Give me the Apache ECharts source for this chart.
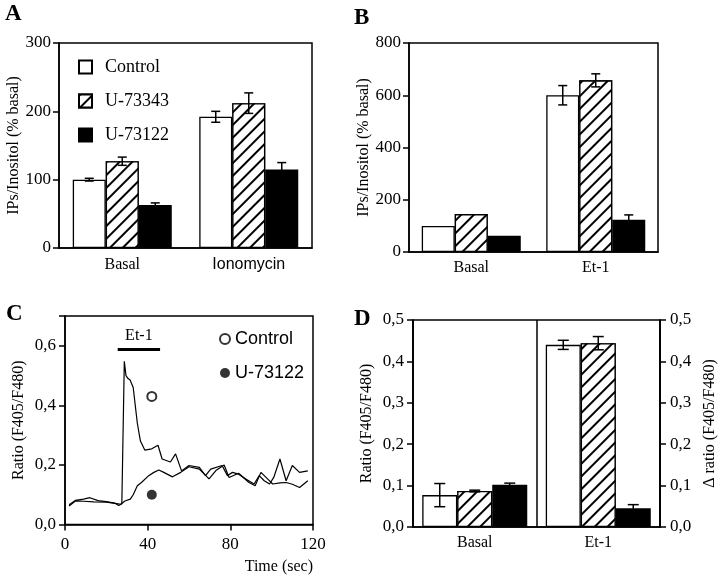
<!DOCTYPE html>
<html><head><meta charset="utf-8">
<script src="https://cdn.jsdelivr.net/npm/echarts@6/dist/echarts.min.js"></script>
<style>html,body{margin:0;padding:0;background:#fff}#c{width:720px;height:576px}</style>
</head><body><div id="c"></div>
<script>
// ---- Panel A ----
const catA = ['Basal', 'Ionomycin'];
const aControl = [100, 192], aControlErr = [2, 8];
const aU73343 = [127, 212], aU73343Err = [6, 15];
const aU73122 = [63, 115], aU73122Err = [3, 10];
const ticksA = [0, 100, 200, 300];
// ---- Panel B ----
const catB = ['Basal', 'Et-1'];
const bControl = [100, 600], bControlErr = [0, 37];
const bU73343 = [145, 657], bU73343Err = [0, 25];
const bU73122 = [62, 123], bU73122Err = [0, 19];
const ticksB = [0, 200, 400, 600, 800];
// ---- Panel C ----
const cCtrlTime = [2, 5, 9, 12, 16, 20, 24, 26, 27.5, 28.7, 29.5, 30.5, 31.5, 33, 35, 36.5, 38.6, 42, 45, 47, 51, 53.5, 56.4, 60, 65, 68, 70.5, 76, 78.6, 81, 84, 87.5, 91.5, 94, 96.4, 99, 101, 104, 107, 110, 113.5, 117.5];
const cCtrlRatio = [0.066, 0.081, 0.085, 0.09, 0.08, 0.077, 0.072, 0.064, 0.07, 0.548, 0.5, 0.49, 0.485, 0.46, 0.34, 0.28, 0.25, 0.254, 0.266, 0.22, 0.21, 0.237, 0.18, 0.198, 0.192, 0.164, 0.186, 0.198, 0.164, 0.175, 0.169, 0.153, 0.136, 0.164, 0.147, 0.136, 0.158, 0.22, 0.147, 0.198, 0.175, 0.18];
const cUTime = [2, 5, 9, 14, 20, 25, 27, 29, 31.6, 33, 35, 37, 40.5, 43, 45.4, 47.8, 52, 56, 60, 65, 69.7, 73, 77, 79.4, 84, 89, 92, 94.8, 98, 100.5, 104, 107, 110, 113.5, 117.5];
const cURatio = [0.062, 0.079, 0.078, 0.076, 0.075, 0.07, 0.068, 0.079, 0.085, 0.1, 0.13, 0.141, 0.164, 0.175, 0.183, 0.175, 0.16, 0.175, 0.194, 0.186, 0.153, 0.181, 0.2, 0.158, 0.172, 0.141, 0.13, 0.175, 0.153, 0.136, 0.14, 0.141, 0.135, 0.124, 0.147];
const cEtPeriod = [25.5, 46], cEtLevel = 0.59;
const cCtrlMarker = [42, 0.43], cUMarker = [42, 0.10];
// ---- Panel D ----
const catD = ['Basal', 'Et-1'];
const dControl = [0.077, 0.44], dControlErr = [0.028, 0.011];
const dU73343 = [0.087, 0.444], dU73343Err = [0.002, 0.016];
const dU73122 = [0.102, 0.045], dU73122Err = [0.004, 0.009];

const SERIF = 'Liberation Serif', SANS = 'Liberation Sans';
const black = '#000';
const hatch = {symbol: 'rect', symbolSize: 1, color: '#000', backgroundColor: '#fff',
  dashArrayX: [1, 0], dashArrayY: [1.4, 6.2], rotation: -Math.PI / 4};
const comma = v => v.toFixed(1).replace('.', ',');

function axisBase(extra) {
  return Object.assign({
    axisLine: {show: true, lineStyle: {color: black, width: 1.5}},
    axisTick: {show: true, inside: false, length: 6, lineStyle: {color: black, width: 1.5}},
    axisLabel: {color: black, fontSize: 17, fontFamily: SERIF, margin: 9},
    splitLine: {show: false},
    nameTextStyle: {color: black, fontSize: 16, fontFamily: SERIF}
  }, extra);
}
function bars(xi, yi, w, c, h, k) {
  return [
    {name: 'Control', type: 'bar', xAxisIndex: xi, yAxisIndex: yi, barWidth: w, barGap: '0%', data: c,
      itemStyle: {color: '#fff', borderColor: black, borderWidth: 1.3}, silent: true},
    {name: 'U-73343', type: 'bar', xAxisIndex: xi, yAxisIndex: yi, barWidth: w, barGap: '0%', data: h,
      itemStyle: {color: '#fff', borderColor: black, borderWidth: 1.3, decal: hatch}, silent: true},
    {name: 'U-73122', type: 'bar', xAxisIndex: xi, yAxisIndex: yi, barWidth: w, barGap: '0%', data: k,
      itemStyle: {color: black, borderColor: black, borderWidth: 1.3}, silent: true}
  ];
}
function errSeries(xi, yi, vals, errs, offset, cap) {
  return {type: 'custom', xAxisIndex: xi, yAxisIndex: yi, z: 5, silent: true,
    encode: {x: 0, y: 1},
    data: vals.map((v, i) => [i, v, errs[i]]),
    renderItem(params, api) {
      const e = api.value(2);
      if (!e) return {type: 'group', children: []};
      const c = api.value(0), v = api.value(1);
      const top = api.coord([c, v + e]), bot = api.coord([c, v - e]);
      const x = top[0] + offset;
      const st = {stroke: black, lineWidth: 1.5};
      return {type: 'group', children: [
        {type: 'line', shape: {x1: x, y1: top[1], x2: x, y2: bot[1]}, style: st},
        {type: 'line', shape: {x1: x - cap / 2, y1: top[1], x2: x + cap / 2, y2: top[1]}, style: st},
        {type: 'line', shape: {x1: x - cap / 2, y1: bot[1], x2: x + cap / 2, y2: bot[1]}, style: st}
      ]};
    }};
}
const zip = (a, b) => a.map((v, i) => [v, b[i]]);
const letter = (t, l, tp) => ({text: t, left: l, top: tp, padding: 0,
  textStyle: {fontFamily: SERIF, fontWeight: 'bold', fontSize: 23, color: black}});

const chart = echarts.init(document.getElementById('c'), null, {renderer: 'canvas'});
const gridStyle = {show: true, borderColor: black, borderWidth: 1.5, backgroundColor: 'transparent'};

const option = {
  animation: false,
  backgroundColor: '#fff',
  textStyle: {fontFamily: SERIF, color: black},
  title: [letter('A', 5, 3), letter('B', 354, 7), letter('C', 6, 303), letter('D', 354, 308)],
  legend: [
    {data: ['Control', 'U-73343', 'U-73122'], orient: 'vertical', left: 73, top: 53, itemGap: 16,
      icon: 'rect', itemWidth: 13, itemHeight: 13, selectedMode: false,
      textStyle: {fontFamily: SERIF, fontSize: 18, color: black, padding: [0, 0, 0, 8]}},
    {data: ['C-Control', 'C-U-73122'], orient: 'vertical', left: 214, top: 325, itemGap: 16,
      itemWidth: 10, itemHeight: 10, selectedMode: false, formatter: n => n.slice(2),
      textStyle: {fontFamily: SANS, fontSize: 18, color: black}}
  ],
  grid: [
    Object.assign({left: 59, top: 43, width: 253, height: 205}, gridStyle),
    Object.assign({left: 409, top: 43, width: 249, height: 209}, gridStyle),
    Object.assign({left: 65, top: 316, width: 248, height: 208.5}, gridStyle),
    Object.assign({left: 413, top: 320, width: 247, height: 207}, gridStyle)
  ],
  xAxis: [
    axisBase({type: 'category', gridIndex: 0, data: [catA[0], {value: catA[1], textStyle: {fontFamily: SANS, fontSize: 16}}],
      axisTick: {show: false}, axisLabel: {color: black, fontSize: 16, fontFamily: SERIF, margin: 9}}),
    axisBase({type: 'category', gridIndex: 1, data: catB, axisTick: {show: false},
      axisLabel: {color: black, fontSize: 16, fontFamily: SERIF, margin: 8}}),
    axisBase({type: 'value', gridIndex: 2, min: 0, max: 120, interval: 40,
      axisLabel: {color: black, fontSize: 17, fontFamily: SERIF, margin: 12},
      name: 'Time (sec)', nameLocation: 'end', nameGap: 0,
      nameTextStyle: {color: black, fontSize: 16, fontFamily: SERIF, align: 'right', verticalAlign: 'top', padding: [34, 0, 0, 0]}}),
    axisBase({type: 'category', gridIndex: 3, data: catD, axisTick: {show: false},
      axisLabel: {color: black, fontSize: 16, fontFamily: SERIF, margin: 8},
      splitLine: {show: true, lineStyle: {color: black, width: 1.5}}})
  ],
  yAxis: [
    axisBase({type: 'value', gridIndex: 0, min: ticksA[0], max: ticksA[ticksA.length - 1], interval: 100,
      axisLabel: {color: black, fontSize: 17, fontFamily: SERIF, margin: 8},
      name: 'IPs/Inositol (% basal)', nameLocation: 'middle', nameGap: 37}),
    axisBase({type: 'value', gridIndex: 1, min: ticksB[0], max: ticksB[ticksB.length - 1], interval: 200,
      axisLabel: {color: black, fontSize: 17, fontFamily: SERIF, margin: 8},
      name: 'IPs/Inositol (% basal)', nameLocation: 'middle', nameGap: 36}),
    axisBase({type: 'value', gridIndex: 2, min: 0, max: 0.7, interval: 0.2,
      axisLabel: {color: black, fontSize: 17, fontFamily: SERIF, margin: 9,
        formatter: v => (Math.round(v * 10) % 2 === 0 ? comma(v) : '')},
      name: 'Ratio (F405/F480)', nameLocation: 'middle', nameGap: 38}),
    axisBase({type: 'value', gridIndex: 3, min: 0, max: 0.5, interval: 0.1, position: 'left',
      axisLabel: {color: black, fontSize: 17, fontFamily: SERIF, margin: 9, formatter: comma},
      name: 'Ratio (F405/F480)', nameLocation: 'middle', nameGap: 38}),
    axisBase({type: 'value', gridIndex: 3, min: 0, max: 0.5, interval: 0.1, position: 'right',
      axisLabel: {color: black, fontSize: 17, fontFamily: SERIF, margin: 10, formatter: comma},
      name: 'Δ ratio (F405/F480)', nameLocation: 'middle', nameGap: 42, nameRotate: 90})
  ],
  series: [
    ...bars(0, 0, 33, aControl, aU73343, aU73122),
    errSeries(0, 0, aControl, aControlErr, -33, 9),
    errSeries(0, 0, aU73343, aU73343Err, 0, 9),
    errSeries(0, 0, aU73122, aU73122Err, 33, 9),
    ...bars(1, 1, 33, bControl, bU73343, bU73122),
    errSeries(1, 1, bControl, bControlErr, -33, 9),
    errSeries(1, 1, bU73343, bU73343Err, 0, 9),
    errSeries(1, 1, bU73122, bU73122Err, 33, 9),
    ...bars(3, 3, 35, dControl, dU73343, dU73122),
    errSeries(3, 3, dControl, dControlErr, -35, 11),
    errSeries(3, 3, dU73343, dU73343Err, 0, 11),
    errSeries(3, 3, dU73122, dU73122Err, 35, 11),
    {name: 'Control trace', type: 'line', xAxisIndex: 2, yAxisIndex: 2, data: zip(cCtrlTime, cCtrlRatio),
      symbol: 'none', lineStyle: {color: black, width: 1.2}, silent: true,
      markLine: {silent: true, symbol: 'none', lineStyle: {color: black, width: 3, type: 'solid'},
        label: {show: true, position: 'middle', formatter: 'Et-1', fontFamily: SERIF, fontSize: 16, color: black, distance: 5},
        data: [[{coord: [cEtPeriod[0], cEtLevel]}, {coord: [cEtPeriod[1], cEtLevel]}]]}},
    {name: 'U-73122 trace', type: 'line', xAxisIndex: 2, yAxisIndex: 2, data: zip(cUTime, cURatio),
      symbol: 'none', lineStyle: {color: black, width: 1.2}, silent: true},
    {name: 'C-Control', type: 'scatter', xAxisIndex: 2, yAxisIndex: 2, data: [cCtrlMarker],
      symbol: 'circle', symbolSize: 9, itemStyle: {color: '#fff', borderColor: black, borderWidth: 2}, silent: true},
    {name: 'C-U-73122', type: 'scatter', xAxisIndex: 2, yAxisIndex: 2, data: [cUMarker],
      symbol: 'circle', symbolSize: 10, itemStyle: {color: black}, silent: true}
  ]
};
chart.setOption(option);
</script></body></html>
